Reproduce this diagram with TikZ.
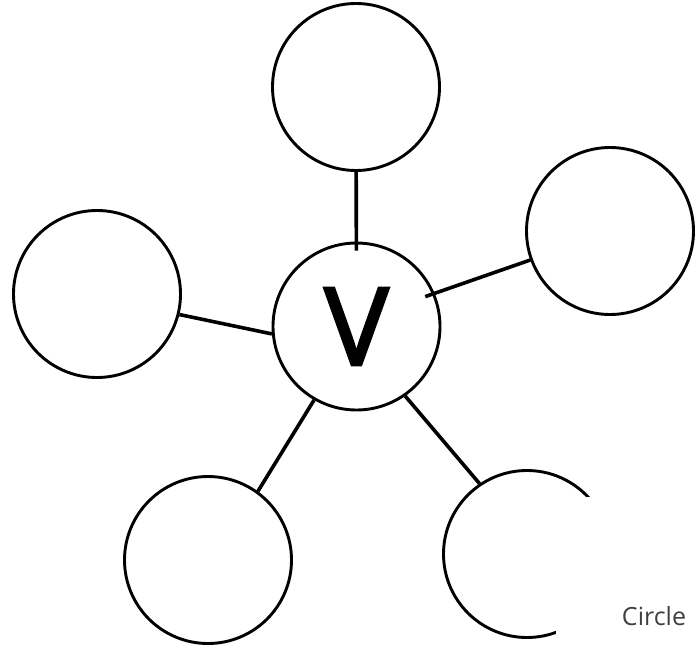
\documentclass[tikz,border=0pt]{standalone}
\usepackage{fontspec}
\usepackage{xcolor}
\usepackage{tikz}
\usetikzlibrary{positioning}
\newfontfamily\labelfont{Open Sans}
\newfontfamily\hubfont[FakeBold=2.5]{Open Sans}
\definecolor{captiongray}{RGB}{64,64,64}
\tikzset{
  bubble/.style={circle, draw=black, line width=2.9pt, fill=white, minimum size=167pt, inner sep=0pt},
  hub/.style={bubble, font=\hubfont\fontsize{108}{108}\selectfont},
  spoke/.style={line width=3.6pt, black},
  mask/.style={fill=white, draw=none},
  caption/.style={font=\labelfont\fontsize{25}{25}\selectfont, text=captiongray}
}

\begin{document}
\begin{tikzpicture}[x=1pt, y=-1pt]
  \useasboundingbox (0,0) rectangle (695,647);

  % outer bubbles
  \node[bubble] (top) at (356,87) {};
  \node[bubble] (right) at (610,231) {};
  \node[bubble] (left) at (97,294) {};
  \node[bubble] (botleft) at (208,560) {};
  \node[bubble] (botright) at (527,554) {};

  % centre
  \node[hub] (v) at (356.5,326.5) {\raisebox{-5pt}{V}};

  % spokes
  \draw[spoke, shorten >=-9pt] (top) -- (v);
  \draw[spoke, shorten >=-10pt] (right.200) -- (v.23);
  \draw[spoke] (left.346) -- (v.185);
  \draw[spoke] (botleft.54) -- (v.240);
  \draw[spoke] (botright.124) -- (v.305);

  % white patch over the last bubble, then its caption
  \fill[mask] (556,497) rectangle (695,647);
  \node[caption] (cap) at (654,616) {Circle};
\end{tikzpicture}
\end{document}
